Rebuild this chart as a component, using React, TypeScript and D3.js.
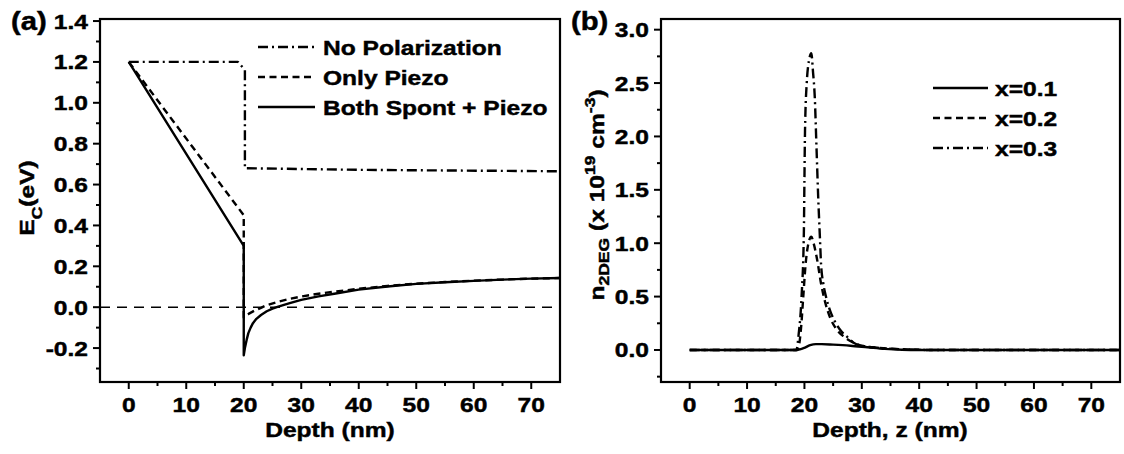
import React from 'react';
import * as d3 from 'd3';

// ---------- Panel (a) data ----------
const noPolDepth = [0, 19, 20.2, 20.2, 40, 75];
const noPolEc = [1.2, 1.2, 1.16, 0.68, 0.672, 0.665];

const piezoDepth = [0, 20, 20, 20.5, 21, 22, 23, 24, 26, 28, 30, 33, 36, 40, 45, 50, 55, 60, 65, 70, 75];
const piezoEc = [1.2, 0.45, -0.05, -0.04, -0.03, -0.015, -0.003, 0.01, 0.027, 0.041, 0.052, 0.066, 0.077, 0.09, 0.104, 0.115, 0.123, 0.13, 0.135, 0.14, 0.143];

const bothDepth = [0, 20, 20, 20.2, 20.5, 20.8, 21.2, 21.6, 22.2, 23, 24, 25, 26, 28, 30, 33, 36, 40, 45, 50, 55, 60, 65, 70, 75];
const bothEc = [1.2, 0.3, -0.235, -0.2, -0.16, -0.127, -0.1, -0.078, -0.057, -0.038, -0.02, -0.007, 0.003, 0.02, 0.036, 0.053, 0.067, 0.086, 0.101, 0.114, 0.122, 0.129, 0.135, 0.14, 0.143];

const legendA = ['No Polarization', 'Only Piezo', 'Both Spont + Piezo'];
const aXTicks = [0, 10, 20, 30, 40, 50, 60, 70];
const aXMinor = [5, 15, 25, 35, 45, 55, 65];
const aYTicks = [-0.2, 0, 0.2, 0.4, 0.6, 0.8, 1.0, 1.2, 1.4];
const aYMinor = [-0.3, -0.1, 0.1, 0.3, 0.5, 0.7, 0.9, 1.1, 1.3];

// ---------- Panel (b) data ----------
const x1Depth = [0, 18.5, 19.2, 20, 21, 22, 23, 25, 28, 31, 34, 37, 40, 75];
const x1N = [0, 0, 0.005, 0.02, 0.045, 0.055, 0.055, 0.05, 0.04, 0.025, 0.01, 0.002, 0, 0];

const x2Depth = [0, 18.8, 19.4, 19.8, 20.2, 20.7, 21.2, 21.6, 22.2, 22.9, 23.6, 24.5, 25.5, 27, 28.5, 30, 33, 38, 42, 75];
const x2N = [0, 0, 0.2, 0.5, 0.8, 1.0, 1.06, 1.0, 0.85, 0.62, 0.45, 0.3, 0.2, 0.12, 0.07, 0.04, 0.02, 0.005, 0, 0];

const x3Depth = [0, 18.6, 19.0, 19.5, 19.9, 20.0, 20.1, 20.4, 20.9, 21.2, 21.5, 21.8, 22.1, 22.4, 22.7, 22.9, 23.3, 23.8, 24.6, 25.6, 26.5, 27.5, 28.5, 30, 33, 38, 42, 75];
const x3N = [0, 0, 0.15, 0.5, 1.1, 1.6, 2.05, 2.5, 2.74, 2.78, 2.6, 2.37, 1.9, 1.43, 1.05, 0.8, 0.62, 0.49, 0.35, 0.24, 0.17, 0.12, 0.07, 0.04, 0.02, 0.005, 0, 0];

const legendB = ['x=0.1', 'x=0.2', 'x=0.3'];
const bXTicks = [0, 10, 20, 30, 40, 50, 60, 70];
const bXMinor = [5, 15, 25, 35, 45, 55, 65];
const bYTicks = [0, 0.5, 1.0, 1.5, 2.0, 2.5, 3.0];
const bYMinor = [-0.25, 0.25, 0.75, 1.25, 1.75, 2.25, 2.75];

// ---------- styling ----------
const FONT = '"Liberation Sans", Arial, Helvetica, sans-serif';
const SX = 1.17;
const DASH = '7,4.5';
const DASHDOT = '10,4,2,4';
const LW = 2.4;

function T({ x, y, children, anchor = 'start', size = 21, rotate = 0 }: any) {
  const tr = `translate(${x},${y})` + (rotate ? ` rotate(${rotate})` : '') + ` scale(${SX},1)`;
  return (
    <text transform={tr} textAnchor={anchor} fontSize={size} fontWeight="bold" fontFamily={FONT}
      fill="#000" stroke="#000" strokeWidth={0.45}>
      {children}
    </text>
  );
}

function zip(xs: number[], ys: number[]) {
  return xs.map((v, i) => [v, ys[i]] as [number, number]);
}

function Axes({ xs, ys, xt, xm, yt, ym }: any) {
  const [x0, x1] = xs.range();
  const [y0, y1] = ys.range(); // y0 bottom, y1 top
  return (
    <g>
      <rect x={x0} y={y1} width={x1 - x0} height={y0 - y1} fill="none" stroke="#000" strokeWidth={2.2} />
      {xt.map((t: number) => (
        <g key={'xt' + t}>
          <line x1={xs(t)} x2={xs(t)} y1={y0} y2={y0 + 7} stroke="#000" strokeWidth={2} />
          <T x={xs(t)} y={y0 + 30} anchor="middle">{String(t)}</T>
        </g>
      ))}
      {xm.map((t: number) => (
        <line key={'xm' + t} x1={xs(t)} x2={xs(t)} y1={y0} y2={y0 + 4} stroke="#000" strokeWidth={2} />
      ))}
      {yt.map((t: number) => (
        <g key={'yt' + t}>
          <line x1={x0} x2={x0 - 7} y1={ys(t)} y2={ys(t)} stroke="#000" strokeWidth={2} />
          <T x={x0 - 12} y={ys(t) + 7.5} anchor="end">{t.toFixed(1)}</T>
        </g>
      ))}
      {ym.map((t: number) => (
        <line key={'ym' + t} x1={x0} x2={x0 - 4} y1={ys(t)} y2={ys(t)} stroke="#000" strokeWidth={2} />
      ))}
    </g>
  );
}

export default function App() {
  const xA = d3.scaleLinear().domain([-5, 75]).range([100, 560]);
  const yA = d3.scaleLinear().domain([-0.366, 1.41]).range([382, 19]);
  const xB = d3.scaleLinear().domain([-5, 75]).range([661, 1120]);
  const yB = d3.scaleLinear().domain([-0.3, 3.1]).range([382, 19]);

  const lineA = d3.line<[number, number]>().x(d => xA(d[0])).y(d => yA(d[1]));
  const lineB = d3.line<[number, number]>().x(d => xB(d[0])).y(d => yB(d[1])).curve(d3.curveMonotoneX);

  const aSeries = [
    { d: zip(noPolDepth, noPolEc), dash: DASHDOT },
    { d: zip(piezoDepth, piezoEc), dash: DASH },
    { d: zip(bothDepth, bothEc), dash: undefined },
  ];
  const bSeries = [
    { d: zip(x1Depth, x1N), dash: undefined },
    { d: zip(x2Depth, x2N), dash: DASH },
    { d: zip(x3Depth, x3N), dash: DASHDOT },
  ];

  return (
    <svg width={1124} height={454} style={{ position: 'absolute', left: 0, top: 0, background: '#fff' }}>
      <rect x={0} y={0} width={1124} height={454} fill="#fff" />
      {/* Panel (a) */}
      <line x1={xA(-5)} x2={xA(75)} y1={yA(0)} y2={yA(0)} stroke="#000" strokeWidth={1.4} strokeDasharray="10,7" />
      {aSeries.map((s, i) => (
        <path key={'a' + i} d={lineA(s.d) || ''} fill="none" stroke="#000" strokeWidth={LW} strokeDasharray={s.dash} strokeLinejoin="round" />
      ))}
      <Axes xs={xA} ys={yA} xt={aXTicks} xm={aXMinor} yt={aYTicks} ym={aYMinor} />
      <T x={11} y={30} size={25}>(a)</T>
      <T x={330} y={437} anchor="middle">Depth (nm)</T>
      <T x={34} y={198} anchor="middle" rotate={-90}>
        E<tspan fontSize={15} dy={8}>C</tspan><tspan dy={-8}>(eV)</tspan>
      </T>
      {legendA.map((name, i) => {
        const ly = 47 + i * 30;
        return (
          <g key={'la' + i}>
            <line x1={258} x2={315} y1={ly} y2={ly} stroke="#000" strokeWidth={LW} strokeDasharray={aSeries[i].dash} />
            <T x={323} y={ly + 7.5}>{name}</T>
          </g>
        );
      })}

      {/* Panel (b) */}
      {bSeries.map((s, i) => (
        <path key={'b' + i} d={lineB(s.d) || ''} fill="none" stroke="#000" strokeWidth={LW} strokeDasharray={s.dash} strokeLinejoin="round" />
      ))}
      <Axes xs={xB} ys={yB} xt={bXTicks} xm={bXMinor} yt={bYTicks} ym={bYMinor} />
      <T x={571} y={30} size={25}>(b)</T>
      <T x={890} y={437} anchor="middle">Depth, z (nm)</T>
      <T x={604} y={195} anchor="middle" rotate={-90}>
        n<tspan fontSize={15} dy={5}>2DEG</tspan>
        <tspan dy={-5}> (x 10</tspan>
        <tspan fontSize={15} dy={-9}>19</tspan>
        <tspan dy={9}> cm</tspan>
        <tspan fontSize={15} dy={-9}>-3</tspan>
        <tspan dy={9}>)</tspan>
      </T>
      {legendB.map((name, i) => {
        const ly = 88 + i * 30;
        return (
          <g key={'lb' + i}>
            <line x1={933} x2={988} y1={ly} y2={ly} stroke="#000" strokeWidth={LW} strokeDasharray={bSeries[i].dash} />
            <T x={995} y={ly + 8}>{name}</T>
          </g>
        );
      })}
    </svg>
  );
}
